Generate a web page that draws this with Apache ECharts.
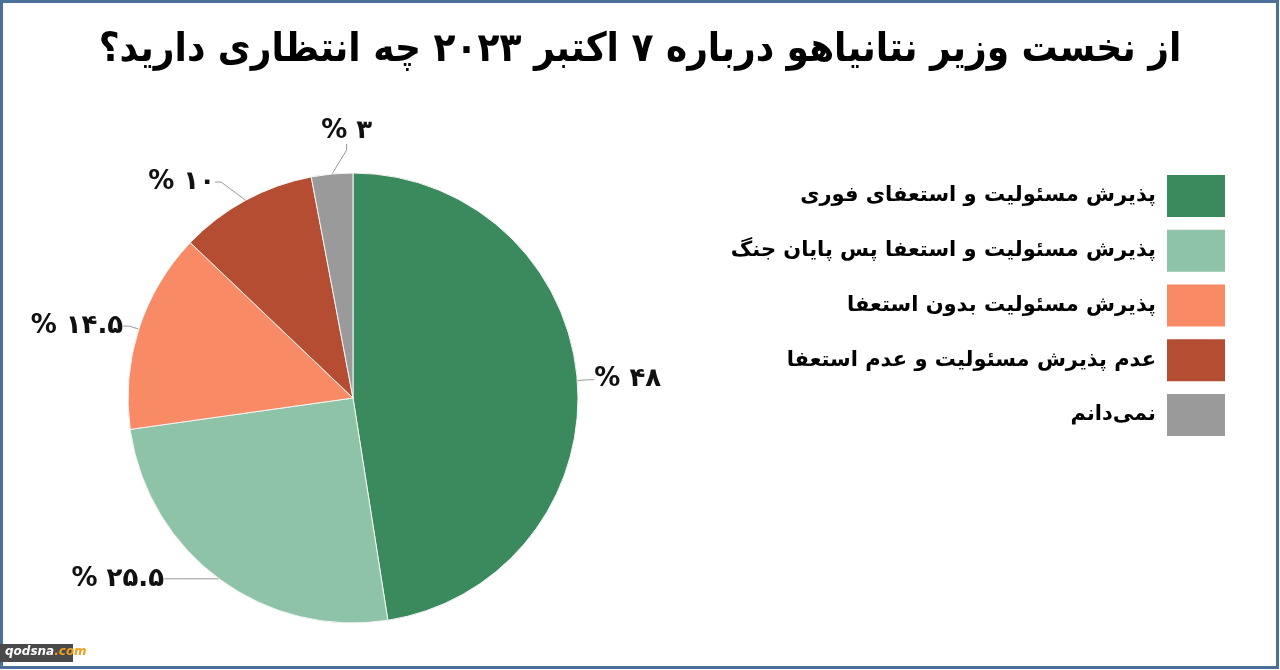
<!DOCTYPE html>
<html><head><meta charset="utf-8">
<script src="https://cdn.jsdelivr.net/npm/echarts@6/dist/echarts.min.js"></script>
<style>html,body{margin:0;padding:0;background:#fff}#c{width:1280px;height:670px}</style>
</head><body><div id="c"></div>
<script>
const titleText = 'از نخست وزیر نتانیاهو درباره ۷ اکتبر ۲۰۲۳ چه انتظاری دارید؟\u200F';
const categories = [
  'پذیرش مسئولیت و استعفای فوری',
  'پذیرش مسئولیت و استعفا پس پایان جنگ',
  'پذیرش مسئولیت بدون استعفا',
  'عدم پذیرش مسئولیت و عدم استعفا',
  'نمی‌دانم'
];
const values = [48, 25.5, 14.5, 10, 3];
const colors = ['#3b8a5e', '#8ec3a7', '#f88b65', '#b44d32', '#9a9a9a'];

function fa(n){ return String(n).replace(/\d/g, d => '۰۱۲۳۴۵۶۷۸۹'[d]); }

// label nudges (style only)
const labelShift = [[-4, 0], [-38, -8], [0, 0], [-18, -10], [52, -33]];

const chart = echarts.init(document.getElementById('c'));
chart.setOption({
  animation: false,
  title: {
    text: titleText, left: 'center', top: 26,
    textStyle: { fontFamily: 'DejaVu Sans Condensed, DejaVu Sans', fontWeight: 'bold', fontSize: 40, color: '#000' }
  },
  legend: {
    orient: 'vertical', right: 50, top: 170, align: 'right',
    itemWidth: 58, itemHeight: 42, itemGap: 12.75,
    icon: 'rect',
    itemStyle: { borderWidth: 0 },
    data: categories,
    textStyle: { fontFamily: 'DejaVu Sans', fontWeight: 'bold', fontSize: 21, color: '#000', padding: [0, 6, 0, 0] }
  },
  graphic: [
    { type: 'rect', shape: { x: 1.5, y: 1.5, width: 1276, height: 666 }, style: { fill: 'none', stroke: '#4a6f98', lineWidth: 3 }, silent: true },
    { type: 'rect', shape: { x: 0, y: 644, width: 73, height: 18 }, style: { fill: '#4a4a4a' } },
    { type: 'text', x: 5, y: 646, style: { text: '{a|qodsna}{b|.com}', rich: {
      a: { fill: '#fff', fontSize: 12, fontWeight: 'bold', fontStyle: 'italic', fontFamily: 'DejaVu Sans' },
      b: { fill: '#f0a020', fontSize: 12, fontWeight: 'bold', fontStyle: 'italic', fontFamily: 'DejaVu Sans' } } } }
  ],
  series: [{
    type: 'pie',
    center: [353, 398], radius: 225,
    startAngle: 90, clockwise: true,
    itemStyle: { borderColor: '#f4f4f4', borderWidth: 1 },
    label: {
      show: true, position: 'outside',
      formatter: p => '% ' + fa(p.value),
      fontFamily: 'DejaVu Sans', fontWeight: 'bold', fontSize: 26, color: '#111'
    },
    labelLine: { show: true, length: 10, length2: 6, lineStyle: { color: '#999', width: 1 } },
    labelLayout: p => ({
      x: p.labelRect.x + labelShift[p.dataIndex][0],
      y: p.labelRect.y + labelShift[p.dataIndex][1],
      align: 'left', verticalAlign: 'top'
    }),
    emphasis: { disabled: true },
    data: categories.map((n, i) => ({ name: n, value: values[i], itemStyle: { color: colors[i] } }))
  }]
});
</script></body></html>
